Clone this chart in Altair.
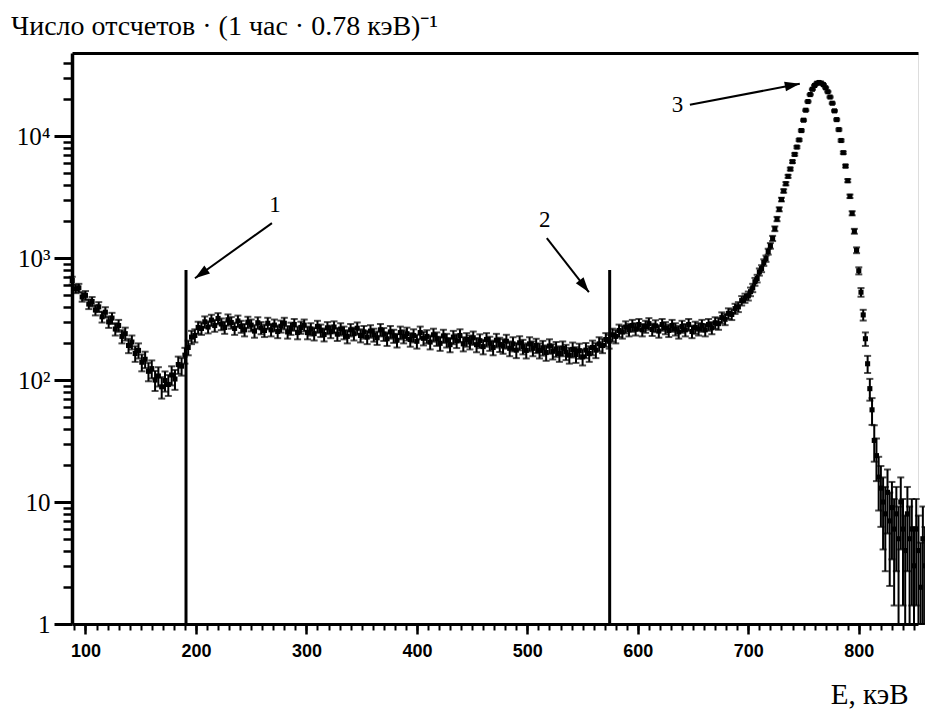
import altair as alt
import pandas as pd

# ---- spectrum ----
energy_low = list(range(88, 698, 3))
counts_low = [
    655, 560, 570, 480, 495, 420, 440, 375, 398, 330,
    360, 300, 322, 262, 280, 228, 240, 192, 205, 165,
    175, 140, 148, 118, 124, 100, 108, 88, 99, 92,
    110, 102, 134, 130, 160, 185, 225, 232, 270, 265,
    300, 272, 310, 280, 320, 288, 270, 312, 296, 265,
    305, 275, 258, 298, 282, 252, 295, 268, 255, 292,
    258, 282, 250, 276, 292, 248, 265, 285, 245, 270,
    282, 245, 262, 240, 275, 255, 236, 268, 250, 272,
    238, 262, 245, 228, 258, 240, 266, 232, 248, 225,
    252, 235, 222, 258, 238, 218, 248, 230, 212, 245,
    228, 240, 215, 232, 208, 245, 220, 228, 205, 235,
    218, 200, 230, 212, 195, 225, 210, 232, 198, 215,
    205, 222, 195, 210, 188, 215, 200, 185, 212, 196,
    190, 208, 182, 198, 176, 202, 188, 175, 198, 182,
    192, 175, 184, 168, 190, 172, 180, 165, 182, 170,
    160, 178, 162, 174, 155, 176, 165, 185, 176, 198,
    192, 215, 208, 235, 228, 255, 248, 272, 258, 280,
    262, 285, 258, 275, 290, 260, 278, 252, 285, 268,
    255, 280, 262, 248, 275, 258, 285, 250, 270, 262,
    280, 258, 285, 268, 295, 290, 325, 315, 352, 345,
    385, 398, 448, 470,
]
energy_peak = list(range(700, 861, 2))
counts_peak = [
    490, 530, 570, 640, 680, 770, 820, 920, 990, 1130,
    1260, 1450, 1740, 2090, 2510, 3020, 3550, 4070, 4680, 5370,
    6170, 7080, 8130, 9300, 11100, 13500, 16300, 19200, 21900, 24200,
    26000, 27100, 27500,
    27200, 26400, 24900, 23100, 20900, 18600, 16100, 13650, 11300, 9200,
    7310, 5680, 4310, 3210, 2330, 1660, 1160, 787, 525, 342,
    218, 136, 85, 57, 32, 24, 16, 13, 10, 8,
    12, 7, 9, 6, 8, 5, 10, 6, 4, 8,
    5, 6, 3, 6, 4, 2, 5, 3,
]

# ---- annotations ----
cut_energy = [191.0, 574.5]
cut_low = [1, 1]
cut_top = [800, 800]

arrow_e1 = [268.8, 517.6, 647.1]
arrow_n1 = [1936, 1457, 18040]
arrow_e2 = [199.1, 555.7, 746.6]
arrow_n2 = [684, 525, 26850]
arrow_angle = [234.5, 142.1, 79.2]

marker_text = ["1", "2", "3"]
marker_e = [271.5, 515.8, 636.0]
marker_n = [2722, 2047, 18040]

# ---- axis ticks ----
y_major = [1, 10, 100, 1000, 10000]
y_minor = [m * 10 ** k for k in range(5) for m in range(2, 10) if m * 10 ** k < 48000]
x_major = [100, 200, 300, 400, 500, 600, 700, 800]
x_minor = list(range(90, 851, 10))

SERIF = "Liberation Serif, Times New Roman, serif"

spec = pd.DataFrame({"E": energy_low + energy_peak, "N": counts_low + counts_peak})
cuts = pd.DataFrame({"E": cut_energy, "lo": cut_low, "hi": cut_top})
arrows = pd.DataFrame({"e1": arrow_e1, "n1": arrow_n1, "e2": arrow_e2, "n2": arrow_n2, "angle": arrow_angle})
markers = pd.DataFrame({"t": marker_text, "e": marker_e, "n": marker_n})

xs = alt.Scale(domain=[87.8, 853.6], nice=False, zero=False)
ys = alt.Scale(type="log", domain=[1, 48000], nice=False)

ax_x_major = alt.Axis(
    orient="bottom", values=x_major, tickSize=10, tickWidth=2.5, tickColor="black",
    domain=True, domainWidth=3, domainColor="black", grid=False,
    labelFont="Liberation Sans", labelFontWeight="bold", labelFontSize=18,
    labelColor="black", labelPadding=8, labelOverlap=False, labelFlush=False, format="d",
    title="E, кэВ", titleFont=SERIF, titleFontSize=29,
    titleFontWeight="normal", titleColor="black", titleAlign="right",
    titleAnchor="end", titleX=836, titleY=79, titleBaseline="alphabetic",
)
ax_x_minor = alt.Axis(
    orient="bottom", values=x_minor, tickSize=6, tickWidth=2, tickColor="black",
    domain=False, labels=False, grid=False, title=None,
)
ax_x_top = alt.Axis(
    orient="top", ticks=False, labels=False, domain=True, domainWidth=3,
    domainColor="black", grid=False, title=None,
)
ax_y_major = alt.Axis(
    orient="left", values=y_major, tickSize=18, tickWidth=3, tickColor="black",
    domain=True, domainWidth=3.5, domainColor="black", grid=False,
    labelFont=SERIF, labelFontSize=25, labelColor="black",
    labelPadding=4, labelOverlap=False, labelFlush=False,
    labelExpr="datum.value == 10000 ? '10⁴' : datum.value == 1000 ? '10³' : datum.value == 100 ? '10²' : datum.value == 10 ? '10' : '1'",
    title=None,
)
ax_y_minor = alt.Axis(
    orient="left", values=y_minor, tickSize=9, tickWidth=2.5, tickColor="black",
    domain=False, labels=False, grid=False, title=None,
)

base = alt.Chart(spec).transform_calculate(
    err="sqrt(3.5 * datum.N)"
).transform_calculate(
    lo="max(datum.N - datum.err, 1)", hi="datum.N + datum.err"
)

bars = base.mark_rule(color="black", strokeWidth=2).encode(
    x=alt.X("E:Q", scale=xs, axis=ax_x_minor),
    y=alt.Y("lo:Q", scale=ys, axis=ax_y_minor),
    y2="hi:Q",
)
cap_lo = base.mark_tick(color="black", orient="horizontal", size=7, thickness=2).encode(
    x=alt.X("E:Q", scale=xs, axis=ax_x_top),
    y=alt.Y("lo:Q", scale=ys, axis=None),
)
cap_hi = base.mark_tick(color="black", orient="horizontal", size=7, thickness=2).encode(
    x=alt.X("E:Q", scale=xs, axis=None),
    y=alt.Y("hi:Q", scale=ys, axis=None),
)
points = base.mark_square(color="black", size=26, opacity=1).encode(
    x=alt.X("E:Q", scale=xs, axis=ax_x_major),
    y=alt.Y("N:Q", scale=ys, axis=ax_y_major),
)
cut_lines = alt.Chart(cuts).mark_rule(color="black", strokeWidth=3).encode(
    x=alt.X("E:Q", scale=xs, axis=None),
    y=alt.Y("lo:Q", scale=ys, axis=None),
    y2="hi:Q",
)
arrow_lines = alt.Chart(arrows).mark_rule(color="black", strokeWidth=2).encode(
    x=alt.X("e1:Q", scale=xs, axis=None),
    y=alt.Y("n1:Q", scale=ys, axis=None),
    x2="e2:Q",
    y2="n2:Q",
)
arrow_heads = alt.Chart(arrows).mark_point(
    shape="M0,0L0.65,2L-0.65,2Z", filled=True, size=225, color="black",
    opacity=1, strokeWidth=0,
).encode(
    x=alt.X("e2:Q", scale=xs, axis=None),
    y=alt.Y("n2:Q", scale=ys, axis=None),
    angle=alt.Angle("angle:Q", scale=None),
)
marker_labels = alt.Chart(markers).mark_text(
    font=SERIF, fontSize=23, color="black", align="center", baseline="middle"
).encode(
    x=alt.X("e:Q", scale=xs, axis=None),
    y=alt.Y("n:Q", scale=ys, axis=None),
    text="t:N",
)

chart = alt.layer(
    bars, cap_lo, cap_hi, points, cut_lines, arrow_lines, arrow_heads, marker_labels
).resolve_axis(
    x="independent", y="independent"
).properties(
    width=846,
    height=571,
    autosize=alt.AutoSizeParams(type="none"),
    padding={"left": 72, "top": 53, "right": 7, "bottom": 85},
    title=alt.TitleParams(
        "Число отсчетов · (1 час · 0.78 кэВ)⁻¹",
        anchor="start", frame="group", dx=-61, dy=24, offset=14,
        font=SERIF, fontSize=28, fontWeight="normal",
        color="black", baseline="alphabetic",
    ),
).configure_view(stroke=None).configure(background="white")

chart.save("out.html", embed_options={"renderer": "svg", "actions": False})
